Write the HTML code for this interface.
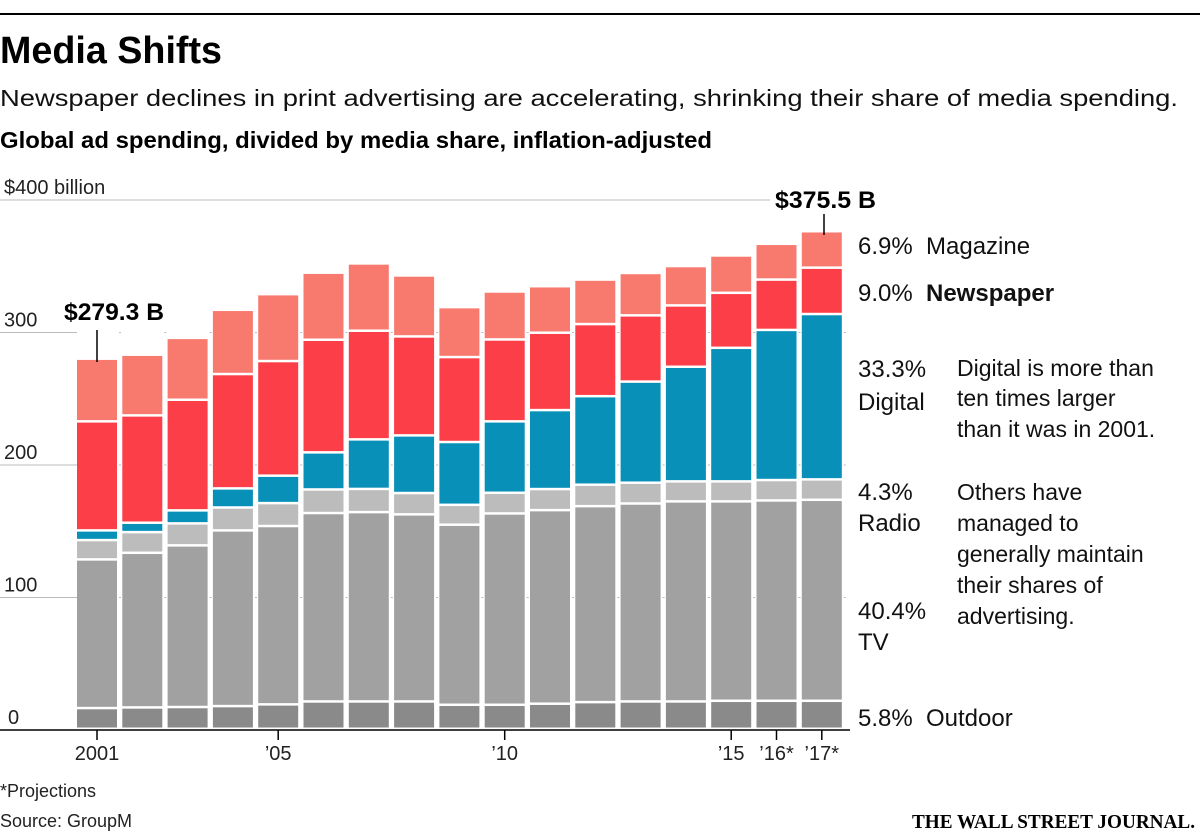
<!DOCTYPE html>
<html><head><meta charset="utf-8"><style>
html,body{margin:0;padding:0;background:#fff;}
svg{display:block;font-family:"Liberation Sans",sans-serif;}
</style></head><body>
<svg id="chart" width="1200" height="835" viewBox="0 0 1200 835">
<line x1="0" y1="14" x2="1200" y2="14" stroke="#000" stroke-width="2"/>
<text x="0" y="63" font-size="38" font-weight="bold" textLength="222" lengthAdjust="spacingAndGlyphs">Media Shifts</text>
<text x="0" y="106" font-size="23" fill="#111" textLength="1178" lengthAdjust="spacingAndGlyphs">Newspaper declines in print advertising are accelerating, shrinking their share of media spending.</text>
<text x="0" y="148" font-size="23" font-weight="bold" textLength="712" lengthAdjust="spacingAndGlyphs">Global ad spending, divided by media share, inflation-adjusted</text>
<g id="grid"></g>
<g id="bars"></g>
<g id="axis"></g>
<text x="64" y="320" font-size="24" font-weight="bold" textLength="100" lengthAdjust="spacingAndGlyphs">$279.3 B</text>
<line x1="97" y1="330" x2="97" y2="362" stroke="#000" stroke-width="1.5"/>
<text x="775" y="208" font-size="24" font-weight="bold" textLength="101" lengthAdjust="spacingAndGlyphs">$375.5 B</text>
<line x1="824" y1="214" x2="824" y2="235" stroke="#000" stroke-width="1.5"/>
<g font-size="24" fill="#111">
<text x="858" y="254">6.9%</text>
<text x="926" y="254">Magazine</text>
<text x="858" y="301">9.0%</text>
<text x="926" y="301" font-weight="bold">Newspaper</text>
<text x="858" y="377">33.3%</text>
<text x="858" y="410">Digital</text>
<text x="858" y="500">4.3%</text>
<text x="858" y="531">Radio</text>
<text x="858" y="619">40.4%</text>
<text x="858" y="650">TV</text>
<text x="858" y="726">5.8%</text>
<text x="926" y="726">Outdoor</text>
<text font-size="23"><tspan x="957" y="376">Digital is more than</tspan><tspan x="957" y="406">ten times larger</tspan><tspan x="957" y="437">than it was in 2001.</tspan></text>
<text font-size="23"><tspan x="957" y="500">Others have</tspan><tspan x="957" y="531">managed to</tspan><tspan x="957" y="562">generally maintain</tspan><tspan x="957" y="593">their shares of</tspan><tspan x="957" y="624">advertising.</tspan></text>
</g>
<text x="0" y="797" font-size="18" fill="#222">*Projections</text>
<text x="0" y="827" font-size="18" fill="#222">Source: GroupM</text>
<text x="912" y="828" font-family="'Liberation Serif',serif" font-size="20" font-weight="bold" textLength="283" lengthAdjust="spacingAndGlyphs">THE WALL STREET JOURNAL.</text>
</svg>
<script>
const years = ["2001","2002","2003","2004","2005","2006","2007","2008","2009","2010","2011","2012","2013","2014","2015","2016","2017"];
const outdoor = [15.6,16.1,16.4,17.1,18.4,20.6,20.6,20.6,18.1,18.1,18.9,20.1,20.6,20.6,21.1,21.1,21.1];
const tv = [112.2,116.7,122.0,132.6,134.6,142.2,142.9,141.2,135.9,144.4,146.1,147.9,149.4,151.0,150.5,151.2,151.7];
const radio = [14.6,15.6,16.6,17.3,17.3,17.8,17.5,16.1,15.0,15.6,15.9,16.2,15.7,15.1,15.1,15.4,15.4];
const digital = [7.3,7.1,9.8,14.4,20.7,28.0,37.4,43.5,47.4,53.9,59.6,66.8,76.3,86.5,100.8,113.3,124.8];
const newspaper = [82.3,81.0,83.5,86.3,86.5,85.0,82.0,74.7,64.1,61.8,58.4,54.4,50.0,46.3,41.5,38.0,35.0];
const magazine = [47.3,45.8,46.7,48.5,50.5,50.6,50.8,46.0,37.7,36.2,35.1,33.6,32.0,29.7,28.2,27.0,27.5];
const yTicks = [0,100,200,300,400];
const xTickYears = ["2001","2005","2010","2015","2016","2017"];
const xTickLabels = ["2001","\u201905","\u201910","\u201915","\u201916*","\u201917*"];

const NS="http://www.w3.org/2000/svg";
const y0=730, pxPer=1.325, x0=77, pitch=45.3, bw=40;
const yScale=v=>y0-v*pxPer;
const xScale=i=>x0+i*pitch;
function mk(tag,attrs,parent){const e=document.createElementNS(NS,tag);for(const k in attrs)e.setAttribute(k,attrs[k]);parent.appendChild(e);return e;}

const grid=document.getElementById('grid');
yTicks.forEach(t=>{
  const y=yScale(t);
  if(t===400){
    const ln=mk('line',{x1:0,y1:y,x2:770,y2:y,stroke:'#bbb','stroke-width':1},grid);
    
    
  } else if(t>0){
    const ln=mk('line',{x1:119,y1:y,x2:850,y2:y,stroke:'#bbb','stroke-width':1,'stroke-dasharray':'2 43.3'},grid);
    
    
    const ln2=mk('line',{x1:0,y1:y,x2:77,y2:y,stroke:'#bbb','stroke-width':1},grid);
    
    
  }
  const tx=mk('text',{x:t===0?8:4,y:y-6,'font-size':20,fill:'#222'},grid);
  tx.textContent=t===400?'$400 billion':String(t);
  
  
});

const series=[outdoor,tv,radio,digital,newspaper,magazine];
const names=['outdoor','tv','radio','digital','newspaper','magazine'];
const colors=['#8a8a8a','#a1a1a1','#bcbcbc','#0890b8','#fb3e47','#f87a6f'];
const bars=document.getElementById('bars');
years.forEach((yr,i)=>{
  let cum=0;
  series.forEach((s,k)=>{
    const top=yScale(cum+s[i]), bot=yScale(cum);
    const r=mk('rect',{x:xScale(i),y:top,width:bw,height:Math.max(0,bot-top-2.5),fill:colors[k]},bars);
    
    
    cum+=s[i];
  });
});

const axis=document.getElementById('axis');
const al=mk('line',{x1:0,y1:y0,x2:850,y2:y0,stroke:'#000','stroke-width':1.5},axis);


xTickYears.forEach((yr,j)=>{
  const i=years.indexOf(yr), cx=xScale(i)+bw/2;
  const tk=mk('line',{x1:cx,y1:y0,x2:cx,y2:y0+10,stroke:'#000','stroke-width':1.5},axis);
  
  
  const tx=mk('text',{x:cx,y:y0+30,'font-size':20,'text-anchor':'middle',fill:'#222'},axis);
  tx.textContent=xTickLabels[j];
  
  
});
</script>
</body></html>
